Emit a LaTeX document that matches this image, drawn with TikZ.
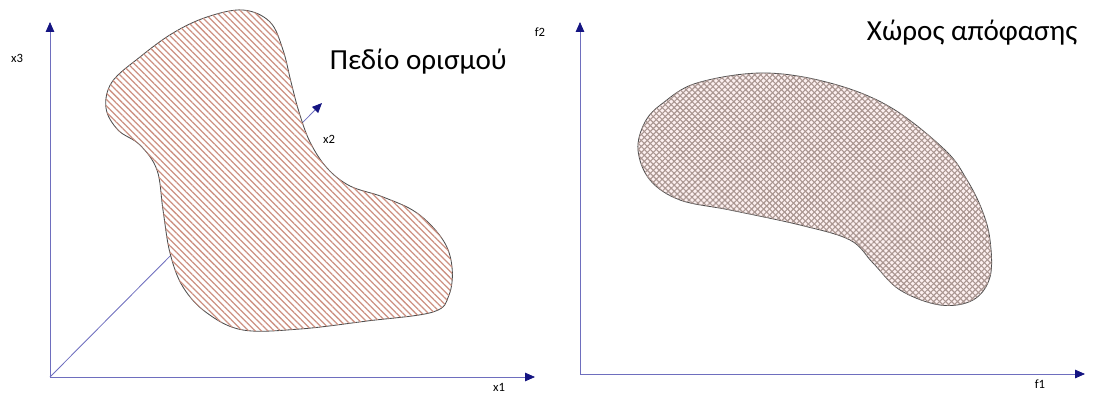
\documentclass[tikz,border=0pt]{standalone}
\usepackage{fontspec}
\setmainfont{Carlito}
\usetikzlibrary{arrows.meta,patterns.meta}
\definecolor{axisblue}{RGB}{110,110,190}
\definecolor{tipblue}{RGB}{20,20,130}
\definecolor{hatchred}{RGB}{205,145,130}
\definecolor{crossgrey}{RGB}{170,150,145}
\definecolor{crosspink}{RGB}{253,240,240}
\begin{document}
\begin{tikzpicture}[x=0.025cm,y=-0.025cm,
    axis/.style={axisblue,line width=0.6pt,-{Triangle[length=7pt,width=6pt,color=tipblue]}},
    axislabel/.style={font=\fontsize{9}{10}\selectfont},
    title/.style={font=\fontsize{20.7}{24}\selectfont,anchor=base west},
    blob/.style={draw=black!70,line width=0.6pt}]
    \useasboundingbox (0,0) rectangle (1097,394);
    % left: domain
    \coordinate (o) at (50,377);
    \coordinate (x1end) at (535,377);
    \coordinate (x2end) at (322,103);
    \coordinate (x3end) at (50,22);
    \draw[axis] (o)--(x1end);
    \draw[axis] (o)--(x2end);
    \draw[axis] (o)--(x3end);
    \node[axislabel] (x1) at (499,387) {x1};
    \node[axislabel] (x2) at (329,139) {x2};
    \node[axislabel] (x3) at (17,58) {x3};
    \draw[blob,fill=white,postaction={pattern={Lines[angle=-45,distance=3.2pt,line width=0.9pt]},pattern color=hatchred}]
        plot[smooth cycle,tension=0.6] coordinates {(243,10) (270,22) (283,50) (291,82) (299,112) (310,142) (327,168) (350,186) (383,197) (417,213) (443,240) (452,267) (449,295) (433,312) (367,321) (300,329) (243,330) (207,313) (183,287) (170,253) (163,210) (157,170) (140,145) (118,130) (106,108) (112,82) (140,57) (173,33) (207,17)};
    \node[title] (domain) at (325,70) {Πεδίο ορισμού};
    % right: decision space
    \coordinate (p) at (580,374);
    \coordinate (f1end) at (1085,374);
    \coordinate (f2end) at (580,22);
    \draw[axis] (p)--(f1end);
    \draw[axis] (p)--(f2end);
    \node[axislabel] (f1) at (1040,384) {f1};
    \node[axislabel] (f2) at (540,32) {f2};
    \draw[blob,fill=crosspink,postaction={pattern={Lines[angle=45,distance=3pt,line width=0.8pt]},pattern color=crossgrey},postaction={pattern={Lines[angle=-45,distance=3pt,line width=0.8pt]},pattern color=crossgrey}]
        plot[smooth cycle,tension=0.6] coordinates {(763,73) (830,83) (890,107) (945,150) (967,180) (982,210) (990,240) (990,277) (973,300) (940,305) (900,290) (873,263) (850,240) (800,225) (730,210) (680,200) (650,180) (638,150) (645,122) (663,103) (697,83)};
    \node[title] (decision) at (862,41) {Χώρος απόφασης};
\end{tikzpicture}
\end{document}
